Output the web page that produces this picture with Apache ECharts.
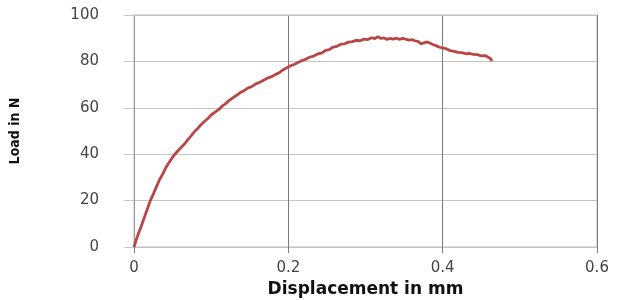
<!DOCTYPE html>
<html>
<head>
<meta charset="utf-8">
<script src="https://cdn.jsdelivr.net/npm/echarts@6/dist/echarts.min.js"></script>
<style>
  html, body { margin: 0; padding: 0; background: #fff; }
  #chart { width: 620px; height: 300px; }
</style>
</head>
<body>
<div id="chart"></div>
<script>
// displacement (mm) and load (N)
const displacement = [
  0, 0.003, 0.006, 0.009, 0.012, 0.015, 0.018, 0.021, 0.025, 0.029,
  0.033, 0.037, 0.041, 0.045, 0.049, 0.053, 0.057, 0.061, 0.066, 0.070,
  0.074, 0.079, 0.083, 0.087, 0.092, 0.096, 0.100, 0.105, 0.110, 0.114,
  0.118, 0.123, 0.128, 0.133, 0.138, 0.143, 0.148, 0.153, 0.158, 0.163,
  0.168, 0.173, 0.178, 0.183, 0.188, 0.193, 0.198, 0.203, 0.208, 0.213,
  0.218, 0.223, 0.228, 0.233, 0.238, 0.243, 0.248, 0.253, 0.258, 0.263,
  0.268, 0.273, 0.278, 0.283, 0.288, 0.293, 0.298, 0.303, 0.308, 0.312,
  0.316, 0.320, 0.324, 0.328, 0.332, 0.336, 0.340, 0.344, 0.348, 0.352,
  0.356, 0.360, 0.364, 0.368, 0.372, 0.376, 0.380, 0.384, 0.388, 0.392,
  0.396, 0.400, 0.405, 0.410, 0.415, 0.420, 0.425, 0.430, 0.435, 0.440,
  0.445, 0.450, 0.455, 0.459, 0.462, 0.464
];
const load = [
  0, 3.2, 6.0, 8.6, 11.4, 14.2, 17.0, 19.9, 22.8, 25.9,
  29.0, 31.3, 34.1, 36.2, 38.2, 40.0, 41.5, 42.9, 44.6, 46.4,
  47.9, 50.0, 51.2, 52.8, 54.3, 55.5, 56.9, 58.1, 59.3, 60.7,
  61.6, 63.1, 64.3, 65.4, 66.6, 67.5, 68.6, 69.2, 70.3, 71.0,
  71.9, 72.8, 73.4, 74.3, 75.1, 76.3, 77.3, 78.1, 78.8, 79.6,
  80.4, 81.0, 81.9, 82.3, 83.2, 83.6, 84.7, 85.1, 86.2, 86.5,
  87.4, 87.6, 88.3, 88.5, 89.1, 88.9, 89.6, 89.4, 90.2, 89.8,
  90.7, 89.9, 90.1, 89.5, 89.9, 89.6, 90.0, 89.5, 89.9, 89.6,
  89.2, 89.4, 88.9, 88.6, 87.6, 88.0, 88.4, 87.8, 87.2, 86.7,
  86.1, 85.8, 85.4, 84.6, 84.3, 83.9, 83.8, 83.3, 83.4, 83.0,
  82.9, 82.4, 82.5, 81.8, 81.2, 80.2
];

const xName = 'Displacement in mm';
const yName = 'Load in N';

const chart = echarts.init(document.getElementById('chart'));

const seriesData = displacement.map((d, i) => [d, load[i]]);

const option = {
  animation: false,
  grid: {
    left: 134, right: 23, top: 15, bottom: 53,
    outerBoundsMode: 'none',
    show: true,
    borderColor: '#bdbdbd',
    borderWidth: 1
  },
  xAxis: {
    type: 'value',
    min: 0,
    max: 0.6,
    interval: 0.2,
    name: xName,
    nameLocation: 'middle',
    nameGap: 32,
    nameTextStyle: {
      fontFamily: 'DejaVu Sans',
      fontWeight: 'bold',
      fontSize: 17,
      color: '#111'
    },
    axisLine: { show: true, lineStyle: { color: '#c4c4c4', width: 1 } },
    axisTick: { show: true, length: 6, lineStyle: { color: '#7a7a7a' } },
    splitLine: {
      show: true,
      showMaxLine: true,
      lineStyle: { color: '#7a7a7a', width: 1 }
    },
    axisLabel: {
      margin: 14,
      fontFamily: 'DejaVu Sans',
      fontSize: 15,
      color: '#444'
    }
  },
  yAxis: {
    type: 'value',
    min: 0,
    max: 100,
    interval: 20,
    name: yName,
    nameLocation: 'middle',
    nameGap: 112,
    nameRotate: 90,
    nameTextStyle: {
      fontFamily: 'DejaVu Sans Condensed',
      fontWeight: 'bold',
      fontSize: 14,
      color: '#111'
    },
    axisLine: { show: true, lineStyle: { color: '#999', width: 1 } },
    axisTick: { show: true, length: 10, lineStyle: { color: '#c4c4c4' } },
    splitLine: {
      show: true,
      showMaxLine: true,
      showMinLine: true,
      lineStyle: { color: '#c4c4c4', width: 1 }
    },
    axisLabel: {
      margin: 35,
      fontFamily: 'DejaVu Sans',
      fontSize: 15,
      color: '#444'
    }
  },
  series: [
    {
      type: 'line',
      data: seriesData,
      showSymbol: false,
      smooth: false,
      lineStyle: { color: '#b84646', width: 2.8 },
      z: 3,
      markLine: {
        silent: true,
        symbol: 'none',
        label: { show: false },
        lineStyle: { color: '#c4c4c4', width: 1, type: 'solid' },
        data: [{ yAxis: 100 }]
      }
    }
  ]
};

chart.setOption(option);
</script>
</body>
</html>
